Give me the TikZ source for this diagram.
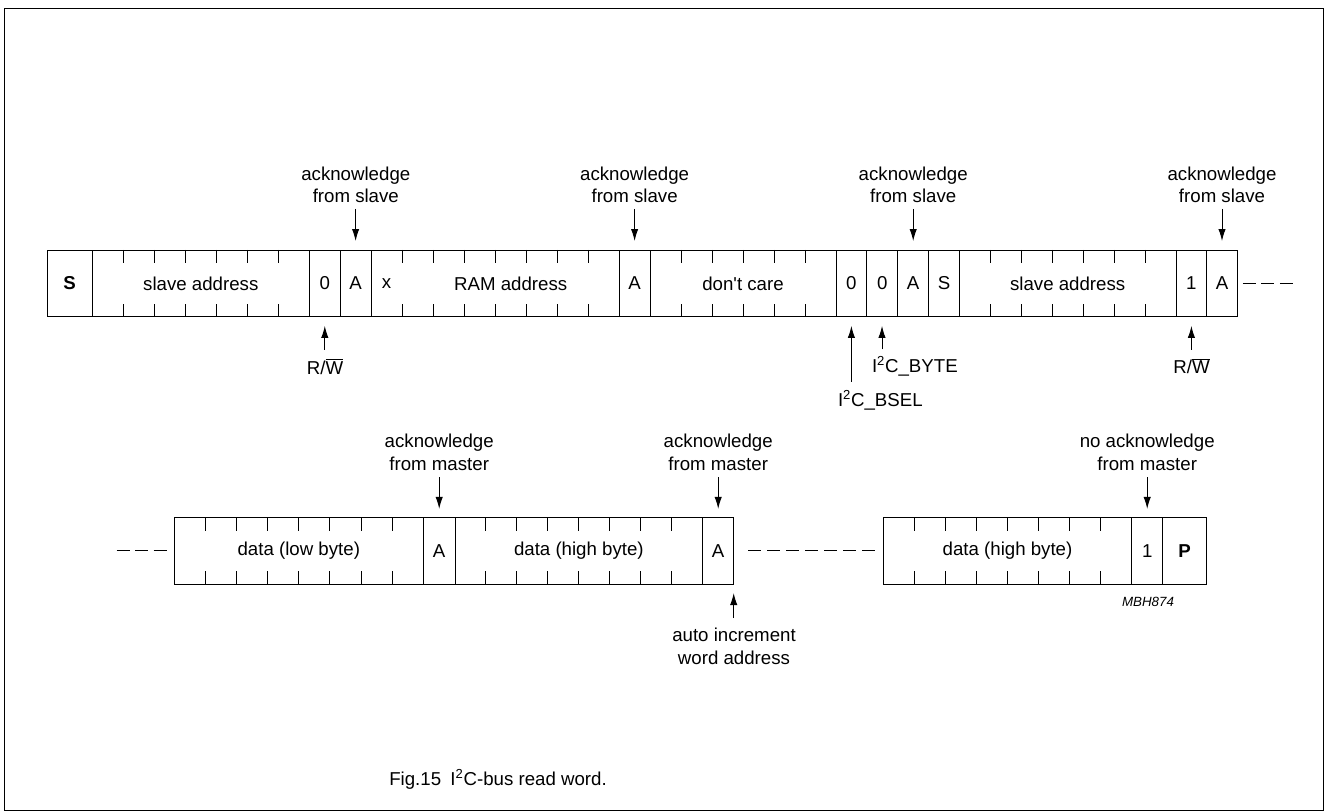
\documentclass[tikz,border=0pt]{standalone}
\usepackage{fontspec}
\setmainfont{Liberation Sans}[Ligatures=TeXOff]
\usetikzlibrary{arrows.meta}
\newcommand\fld[5]{\node[fieldbox, minimum width={#4*0.75pt}] (#1) at (#2,#3) {#5};}
\newcommand\tks[5]{\foreach \i in {1,...,#4}{\draw[tickln] ({#1+\i*#5},#2) -- ++(0,13) ({#1+\i*#5},#3) -- ++(0,-13);}}
\begin{document}
\begin{tikzpicture}[x=0.75pt,y=-0.75pt,
  every node/.style={font=\fontsize{14}{17}\selectfont, inner sep=0pt, outer sep=0pt},
  fieldbox/.style={draw, line width=0.75pt, minimum height={66.6*0.75pt}, anchor=west},
  tickln/.style={line width=0.75pt},
  arr/.style={line width=0.75pt, -{Latex[length=9pt,width=5.5pt]}},
  gapline/.style={line width=0.75pt, dash pattern=on 9.75pt off 4.5pt},
  gapshort/.style={line width=0.75pt, dash pattern=on 9.75pt off 4.125pt},
  lbl/.style={align=center, anchor=base},
  bitlbl/.style={anchor=base}]
\useasboundingbox (0,0) rectangle (1326,812);
\draw[line width=1pt] (4.5,8.5) rectangle (1323.5,810.5);

% ---- top row ----
\def\yc{283.35}
\fld{S1}{47}{\yc}{45.3}{\textbf{S}}
\fld{sa1}{92.3}{\yc}{217}{slave address}
\fld{rw1}{309.3}{\yc}{31}{0}
\fld{a1}{340.3}{\yc}{30.7}{A}
\fld{ram}{371}{\yc}{248.3}{}
\fld{a2}{619.3}{\yc}{30.7}{A}
\fld{dc}{650}{\yc}{186}{don't care}
\fld{bsel}{836}{\yc}{30.7}{0}
\fld{byte}{866.7}{\yc}{31}{0}
\fld{a3}{897.7}{\yc}{31}{A}
\fld{S2}{928.7}{\yc}{30.6}{S}
\fld{sa2}{959.3}{\yc}{216.7}{slave address}
\fld{rw2}{1176}{\yc}{30.7}{1}
\fld{a4}{1206.7}{\yc}{30.6}{A}
\node (xbit) at (386.5,\yc) {x};
\node (ramtxt) at (510.7,\yc) {RAM address};
\tks{92.3}{250}{316.7}{6}{31}
\tks{371}{250}{316.7}{7}{31.04}
\tks{650}{250}{316.7}{5}{31}
\tks{959.3}{250}{316.7}{6}{30.95}
\coordinate (cont1) at (1293,\yc);
\draw[gapshort, shorten <=4.2pt] (a4.east) -- (cont1);

% top labels
\node[lbl] (ack1) at (355.8,203) {acknowledge\\from slave};
\node[lbl] (ack2) at (634.6,203) {acknowledge\\from slave};
\node[lbl] (ack3) at (913.2,203) {acknowledge\\from slave};
\node[lbl] (ack4) at (1222,203) {acknowledge\\from slave};
\coordinate (t1) at (355.6,209);
\coordinate (t2) at (634.6,209);
\coordinate (t3) at (913.2,209);
\coordinate (t4) at (1222,209);
\draw[arr, shorten >=6.75pt] (t1) -- (t1 |- a1.north);
\draw[arr, shorten >=6.75pt] (t2) -- (t2 |- a2.north);
\draw[arr, shorten >=6.75pt] (t3) -- (t3 |- a3.north);
\draw[arr, shorten >=6.75pt] (t4) -- (t4 |- a4.north);

% under labels
\node[bitlbl] (rwl1) at (325,374) {R/$\overline{\mbox{W}}$};
\node[bitlbl] (rwl2) at (1191.5,373.5) {R/$\overline{\mbox{W}}$};
\node[bitlbl, anchor=base west] (bsell) at (838,406) {I\textsuperscript{2}C\_BSEL};
\node[bitlbl, anchor=base west] (bytel) at (872,372.7) {I\textsuperscript{2}C\_BYTE};
\coordinate (u1) at (324.8,350);
\coordinate (u2) at (851.4,381.7);
\coordinate (u3) at (882,349.3);
\coordinate (u4) at (1191.4,350);
\draw[arr, shorten >=6.9pt] (u1) -- (u1 |- rw1.south);
\draw[arr, shorten >=6.9pt] (u2) -- (u2 |- bsel.south);
\draw[arr, shorten >=6.9pt] (u3) -- (u3 |- byte.south);
\draw[arr, shorten >=6.9pt] (u4) -- (u4 |- rw2.south);

% ---- bottom row ----
\def\yb{550.75}
\fld{dl}{174.3}{\yb}{249}{data (low byte)}
\fld{a5}{423.3}{\yb}{31.7}{A}
\fld{dh1}{455}{\yb}{247.7}{data (high byte)}
\fld{a6}{702.7}{\yb}{31}{A}
\fld{dh2}{883.3}{\yb}{248.4}{data (high byte)}
\fld{nb}{1131.7}{\yb}{31}{1}
\fld{P1}{1162.7}{\yb}{44}{\textbf{P}}
\tks{174.3}{517.5}{584}{7}{31.125}
\tks{455}{517.5}{584}{7}{30.96}
\tks{883.3}{517.5}{584}{7}{31.05}
\coordinate (cont2) at (116.7,\yb);
\draw[gapshort, shorten >=5.7pt] (cont2) -- (dl.west);
\draw[gapline, shorten <=10.95pt, shorten >=6.2pt] (a6.east) -- (dh2.west);

\node[lbl] (ack5) at (439.2,470) {acknowledge\\from master};
\node[lbl] (ack6) at (718.2,470) {acknowledge\\from master};
\node[lbl] (nack) at (1147.2,470) {no acknowledge\\from master};
\coordinate (t5) at (439.2,477);
\coordinate (t6) at (718.2,477);
\coordinate (t7) at (1147.2,477);
\draw[arr, shorten >=6.4pt] (t5) -- (t5 |- a5.north);
\draw[arr, shorten >=6.4pt] (t6) -- (t6 |- a6.north);
\draw[arr, shorten >=6.4pt] (t7) -- (t7 |- nb.north);

\node[lbl] (autol) at (734,664.3) {auto increment\\word address};
\coordinate (u5) at (733.7,618);
\draw[arr, shorten >=6.75pt] (u5) -- (a6.south east);

\node[anchor=base, font=\fontsize{10}{12}\selectfont\itshape] (mbh) at (1148,606) {MBH874};
\node[anchor=base] (cap) at (498,785) {Fig.15\enspace I\textsuperscript{2}C-bus read word.};
\end{tikzpicture}
\end{document}
